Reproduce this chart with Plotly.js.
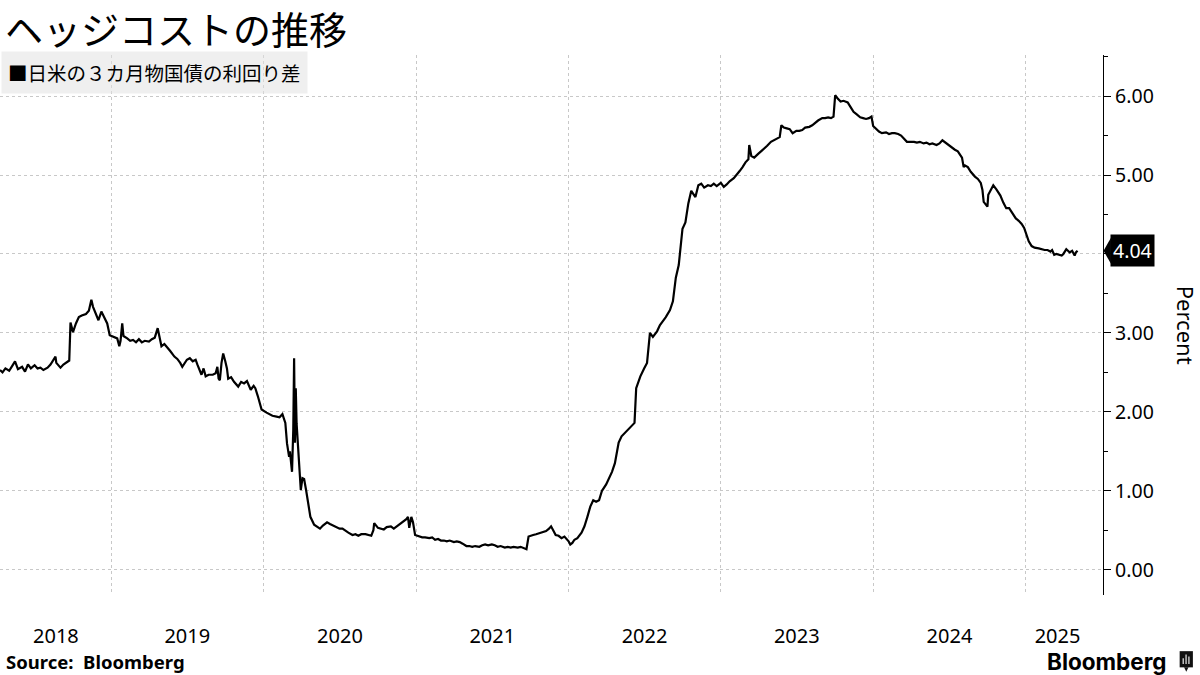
<!DOCTYPE html>
<html>
<head>
<meta charset="utf-8">
<script src="https://cdn.plot.ly/plotly-3.0.1.min.js"></script>
<style>html,body{margin:0;padding:0;background:#fff;}#chart{width:1200px;height:675px;}</style>
</head>
<body>
<div id="chart"></div>
<script>
// ---- data ----
const dates = [
"2018-04-09","2018-04-15","2018-04-22","2018-05-01","2018-05-08","2018-05-15","2018-05-22","2018-06-01","2018-06-08","2018-06-15","2018-06-22",
"2018-07-01","2018-07-08","2018-07-15","2018-07-22","2018-08-01","2018-08-08","2018-08-15","2018-08-20","2018-08-22","2018-09-01","2018-09-08",
"2018-09-15","2018-09-22","2018-09-25","2018-10-01","2018-10-08","2018-10-15","2018-10-22","2018-11-01","2018-11-08","2018-11-14","2018-11-18",
"2018-11-25","2018-12-01","2018-12-08","2018-12-15","2018-12-22","2018-12-28",
"2019-01-08","2019-01-15","2019-01-20","2019-01-23","2019-01-27","2019-01-30","2019-02-08","2019-02-15","2019-02-22","2019-03-01","2019-03-08",
"2019-03-15","2019-03-22","2019-04-01","2019-04-08","2019-04-15","2019-04-22","2019-04-26","2019-05-01","2019-05-08","2019-05-15","2019-05-22",
"2019-06-01","2019-06-08","2019-06-15","2019-06-20","2019-07-01","2019-07-08","2019-07-15","2019-07-22","2019-07-26","2019-08-01","2019-08-05",
"2019-08-10","2019-08-15","2019-08-22","2019-09-01","2019-09-08","2019-09-12","2019-09-15","2019-09-18","2019-09-22","2019-09-26","2019-10-01",
"2019-10-05","2019-10-08","2019-10-15","2019-10-22","2019-11-01","2019-11-08","2019-11-15","2019-11-22","2019-12-01","2019-12-08","2019-12-12",
"2019-12-18","2019-12-22","2019-12-27",
"2020-01-08","2020-01-15","2020-01-22","2020-02-01","2020-02-08","2020-02-15","2020-02-22","2020-02-26","2020-03-02","2020-03-04","2020-03-06",
"2020-03-09","2020-03-12","2020-03-14","2020-03-16","2020-03-18","2020-03-20","2020-03-23","2020-03-25","2020-03-30","2020-04-03","2020-04-07",
"2020-04-12","2020-04-15","2020-04-22","2020-05-01","2020-05-08","2020-05-15","2020-05-22","2020-06-01","2020-06-08","2020-06-15","2020-06-22",
"2020-07-01","2020-07-08","2020-07-15","2020-07-22","2020-08-01","2020-08-08","2020-08-15","2020-08-22","2020-09-01","2020-09-08","2020-09-15",
"2020-09-20","2020-09-22","2020-10-01","2020-10-08","2020-10-15","2020-10-22","2020-11-01","2020-11-08","2020-11-15","2020-11-22","2020-12-01",
"2020-12-08","2020-12-12","2020-12-15","2020-12-20","2020-12-24","2020-12-29",
"2021-01-08","2021-01-15","2021-01-22","2021-02-01","2021-02-08","2021-02-15","2021-02-22","2021-03-01","2021-03-08","2021-03-15","2021-03-22",
"2021-04-01","2021-04-08","2021-04-15","2021-04-22","2021-05-01","2021-05-08","2021-05-15","2021-05-22","2021-06-01","2021-06-08","2021-06-15",
"2021-06-22","2021-07-01","2021-07-08","2021-07-15","2021-07-22","2021-08-01","2021-08-08","2021-08-15","2021-08-22","2021-09-01","2021-09-08",
"2021-09-15","2021-09-22","2021-09-27","2021-10-01","2021-10-08","2021-10-15","2021-10-22","2021-11-01","2021-11-08","2021-11-15","2021-11-20",
"2021-11-25","2021-12-01","2021-12-08","2021-12-15","2021-12-22",
"2022-01-01","2022-01-05","2022-01-10","2022-01-15","2022-01-22","2022-02-01","2022-02-08","2022-02-15","2022-02-22","2022-03-01","2022-03-08",
"2022-03-15","2022-03-22","2022-04-01","2022-04-08","2022-04-15","2022-04-22","2022-05-01","2022-05-08","2022-05-15","2022-05-22","2022-06-01",
"2022-06-08","2022-06-12","2022-06-15","2022-06-22","2022-07-01","2022-07-08","2022-07-15","2022-07-22","2022-08-01","2022-08-08","2022-08-15",
"2022-08-22","2022-09-01","2022-09-08","2022-09-15","2022-09-22","2022-10-01","2022-10-08","2022-10-15","2022-10-22","2022-11-01","2022-11-08",
"2022-11-15","2022-11-22","2022-12-01","2022-12-08","2022-12-15","2022-12-22",
"2023-01-01","2023-01-08","2023-01-15","2023-01-22","2023-02-01","2023-02-08","2023-02-15","2023-02-22","2023-03-01","2023-03-08","2023-03-10",
"2023-03-15","2023-03-22","2023-04-01","2023-04-08","2023-04-15","2023-04-22","2023-05-01","2023-05-08","2023-05-15","2023-05-22","2023-05-26",
"2023-06-01","2023-06-08","2023-06-15","2023-06-22","2023-07-01","2023-07-08","2023-07-15","2023-07-22","2023-08-01","2023-08-08","2023-08-15",
"2023-08-22","2023-09-01","2023-09-08","2023-09-15","2023-09-22","2023-09-28","2023-10-02","2023-10-08","2023-10-15","2023-10-22","2023-11-01",
"2023-11-08","2023-11-15","2023-11-22","2023-12-01","2023-12-08","2023-12-15","2023-12-22","2023-12-28",
"2024-01-01","2024-01-08","2024-01-15","2024-01-22","2024-02-01","2024-02-08","2024-02-15","2024-02-22","2024-03-01","2024-03-08","2024-03-15",
"2024-03-22","2024-04-01","2024-04-08","2024-04-15","2024-04-22","2024-05-01","2024-05-08","2024-05-15","2024-05-22","2024-06-01","2024-06-08",
"2024-06-15","2024-06-22","2024-07-01","2024-07-08","2024-07-15","2024-07-22","2024-08-01","2024-08-05","2024-08-08","2024-08-15","2024-08-22",
"2024-09-01","2024-09-08","2024-09-15","2024-09-19","2024-09-22","2024-09-27","2024-10-01","2024-10-03","2024-10-08","2024-10-15","2024-10-22",
"2024-11-01","2024-11-08","2024-11-15","2024-11-22","2024-12-01","2024-12-08","2024-12-15","2024-12-22","2024-12-28",
"2025-01-03","2025-01-08","2025-01-15","2025-01-22","2025-02-01","2025-02-08","2025-02-15","2025-02-22","2025-03-01","2025-03-05","2025-03-10",
"2025-03-15","2025-03-22","2025-03-28","2025-04-01","2025-04-08","2025-04-12","2025-04-16","2025-04-22","2025-04-28","2025-05-01","2025-05-05"
];
const spread = [
2.53,2.50,2.55,2.52,2.58,2.64,2.54,2.57,2.51,2.60,2.55,
2.59,2.55,2.56,2.53,2.56,2.60,2.66,2.70,2.62,2.56,2.60,
2.62,2.65,3.13,3.01,3.12,3.20,3.22,3.24,3.28,3.42,3.33,
3.25,3.16,3.27,3.20,3.12,2.97,
2.95,2.93,2.83,2.90,3.12,2.96,2.93,2.90,2.91,2.88,2.92,
2.88,2.90,2.89,2.92,2.94,3.06,2.95,2.83,2.86,2.82,2.77,
2.70,2.67,2.62,2.57,2.66,2.68,2.64,2.66,2.60,2.52,2.47,
2.55,2.45,2.47,2.47,2.49,2.57,2.42,2.40,2.62,2.74,2.64,
2.55,2.42,2.44,2.38,2.32,2.38,2.36,2.39,2.28,2.33,2.30,
2.20,2.13,2.03,
1.99,1.97,1.95,1.94,1.93,1.97,1.86,1.60,1.43,1.50,1.35,
1.24,1.77,2.68,1.61,2.30,1.85,1.55,1.35,1.01,1.16,1.15,
1.00,0.90,0.67,0.57,0.55,0.52,0.56,0.60,0.58,0.56,0.55,
0.52,0.52,0.50,0.47,0.44,0.45,0.43,0.45,0.45,0.44,0.43,
0.50,0.59,0.53,0.52,0.51,0.54,0.55,0.52,0.55,0.57,0.61,
0.64,0.67,0.53,0.67,0.60,0.44,
0.42,0.41,0.41,0.40,0.41,0.38,0.39,0.37,0.37,0.36,0.37,
0.35,0.36,0.35,0.33,0.30,0.30,0.29,0.30,0.29,0.31,0.32,
0.31,0.32,0.31,0.29,0.30,0.28,0.29,0.28,0.29,0.28,0.29,
0.27,0.26,0.42,0.43,0.44,0.45,0.46,0.48,0.49,0.52,0.55,
0.50,0.44,0.43,0.40,0.42,
0.36,0.32,0.34,0.38,0.40,0.47,0.55,0.67,0.80,0.88,0.86,
0.88,1.00,1.08,1.16,1.24,1.35,1.61,1.69,1.73,1.77,1.82,
1.86,2.30,2.35,2.45,2.55,2.62,3.00,2.95,3.02,3.10,3.15,
3.20,3.29,3.40,3.70,3.86,4.32,4.40,4.64,4.80,4.72,4.87,
4.89,4.84,4.87,4.86,4.89,4.86,
4.90,4.85,4.88,4.92,4.96,5.00,5.05,5.10,5.16,5.20,5.38,
5.24,5.22,5.27,5.30,5.34,5.37,5.42,5.44,5.46,5.48,5.63,
5.60,5.59,5.58,5.53,5.56,5.56,5.57,5.60,5.61,5.63,5.66,
5.69,5.72,5.72,5.73,5.72,5.74,6.01,5.97,5.93,5.94,5.92,
5.86,5.80,5.77,5.73,5.72,5.71,5.72,5.74,
5.62,5.58,5.55,5.53,5.54,5.52,5.53,5.53,5.52,5.50,5.46,
5.42,5.42,5.42,5.41,5.42,5.40,5.41,5.39,5.40,5.38,5.40,
5.44,5.41,5.38,5.35,5.32,5.30,5.22,5.10,5.12,5.10,5.04,
4.98,4.95,4.90,4.81,4.66,4.62,4.60,4.75,4.80,4.87,4.82,
4.74,4.65,4.58,4.58,4.50,4.45,4.42,4.38,4.33,
4.22,4.16,4.10,4.08,4.07,4.06,4.05,4.05,4.03,4.05,3.99,
4.00,3.99,3.98,4.00,4.06,4.04,4.02,4.04,3.98,4.02,4.04
];
const yearLabels = ["2018","2019","2020","2021","2022","2023","2024","2025"];
const yearLabelPos = ["2018-08-21","2019-07-02","2020-07-02","2021-07-02","2022-07-02","2023-07-02","2024-07-02","2025-03-18"];
const yearBounds = ["2019-01-01","2020-01-01","2021-01-01","2022-01-01","2023-01-01","2024-01-01","2025-01-01"];
const yTickVals = [0, 1, 2, 3, 4, 5, 6];
const yTickText = ["0.00", "1.00", "2.00", "3.00", "", "5.00", "6.00"];
const lastValue = spread[spread.length - 1];

const FONT = '"Noto Sans", "Open Sans", sans-serif';
const JFONT = '"Noto Sans CJK JP", "Noto Sans", sans-serif';

const trace = {
  x: dates, y: spread, type: 'scatter', mode: 'lines',
  line: {color: '#000', width: 2.2}, hoverinfo: 'skip', showlegend: false
};

const layout = {
  width: 1200, height: 675,
  margin: {l: 0, r: 97, t: 55, b: 80},
  paper_bgcolor: '#fff', plot_bgcolor: '#fff',
  xaxis: {
    type: 'date', range: ['2018-04-09', '2025-07-05'],
    tickmode: 'array', tickvals: yearLabelPos, ticktext: yearLabels,
    ticks: 'outside', ticklen: 23, tickcolor: 'rgba(0,0,0,0)',
    showgrid: false, zeroline: false, showline: false,
    tickfont: {family: FONT, size: 20, color: '#000'},
    minor: {tickmode: 'array', tickvals: yearBounds, showgrid: true, gridcolor: '#c8c8c8',
            gridwidth: 1, griddash: 'dot', ticks: ''}
  },
  yaxis: {
    side: 'right', range: [-0.32, 6.52],
    tickmode: 'array', tickvals: yTickVals, ticktext: yTickText,
    ticks: 'outside', ticklen: 7, tickcolor: '#000', tickwidth: 1,
    showline: true, linecolor: '#000', linewidth: 1.2,
    showgrid: true, gridcolor: '#c8c8c8', gridwidth: 1, griddash: 'dot',
    zeroline: false,
    tickfont: {family: FONT, size: 19.5, color: '#000'},
    minor: {dtick: 0.5, tick0: 0, ticks: 'outside', ticklen: 4, tickcolor: '#000', showgrid: false}
  },
  shapes: [
    {type: 'path', xref: 'paper', yref: 'y',
     path: 'M 1.0005 ' + lastValue + ' L 1.0072 ' + (lastValue + 0.165) + ' L 1.0072 ' + (lastValue - 0.165) + ' Z',
     fillcolor: '#000', line: {width: 0}},
    // Bloomberg logo mark
    {type: 'rect', xref: 'paper', yref: 'paper',
     x0: 1.0695, x1: 1.0815, y0: -0.134, y1: -0.104, fillcolor: '#111', line: {width: 0}},
    {type: 'path', xref: 'paper', yref: 'paper',
     path: 'M 1.0735 -0.134 L 1.0755 -0.142 L 1.0775 -0.134 Z', fillcolor: '#111', line: {width: 0}},
    {type: 'rect', xref: 'paper', yref: 'paper', x0: 1.0722, x1: 1.0732, y0: -0.128, y1: -0.117, fillcolor: '#fff', line: {width: 0}},
    {type: 'rect', xref: 'paper', yref: 'paper', x0: 1.0748, x1: 1.0758, y0: -0.128, y1: -0.110, fillcolor: '#fff', line: {width: 0}},
    {type: 'rect', xref: 'paper', yref: 'paper', x0: 1.0774, x1: 1.0784, y0: -0.128, y1: -0.114, fillcolor: '#fff', line: {width: 0}}
  ],
  annotations: [
    {xref: 'paper', yref: 'paper', x: 0.003, y: 1.05, xanchor: 'left', yanchor: 'middle',
     text: 'ヘッジコストの推移', showarrow: false, align: 'left',
     font: {family: JFONT, size: 38, color: '#000'}},
    {xref: 'paper', yref: 'paper', x: 0.001, y: 0.9685, xanchor: 'left', yanchor: 'middle',
     text: '■日米の３カ月物国債の利回り差', showarrow: false, align: 'left',
     font: {family: JFONT, size: 19.5, color: '#000'},
     bgcolor: 'rgba(225,225,225,0.55)', borderpad: 6},
    {xref: 'paper', yref: 'y', x: 1.0065, y: lastValue, xanchor: 'left', yanchor: 'middle',
     text: lastValue.toFixed(2), showarrow: false,
     font: {family: FONT, size: 19.5, color: '#fff'}, bgcolor: '#000', borderpad: 2},
    {xref: 'paper', yref: 'paper', x: 1.0755, y: 0.5, xanchor: 'center', yanchor: 'middle',
     text: 'Percent', textangle: 90, showarrow: false,
     font: {family: FONT, size: 22, color: '#000'}},
    {xref: 'paper', yref: 'paper', x: 0.004, y: -0.123, xanchor: 'left', yanchor: 'middle',
     text: '<b>Source:  Bloomberg</b>', showarrow: false,
     font: {family: FONT, size: 18.5, color: '#000'}},
    {xref: 'paper', yref: 'paper', x: 1.0595, y: -0.123, xanchor: 'right', yanchor: 'middle',
     text: '<b>Bloomberg</b>', showarrow: false,
     font: {family: '"Inter", "Noto Sans", sans-serif', size: 22.5, color: '#000'}}
  ]
};

Plotly.newPlot('chart', [trace], layout, {displayModeBar: false, staticPlot: true});
</script>
</body>
</html>
